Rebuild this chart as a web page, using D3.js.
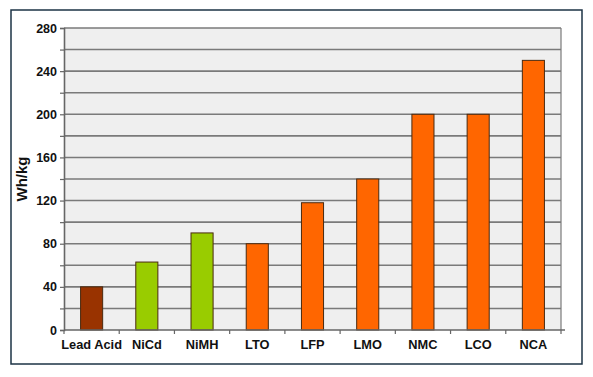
<!DOCTYPE html>
<html>
<head>
<meta charset="utf-8">
<script src="https://cdn.jsdelivr.net/npm/d3@7"></script>
<style>
  html, body { margin: 0; padding: 0; background: #fff; }
  text { font-family: "Liberation Sans", Arial, sans-serif; font-weight: bold; fill: #111; }
</style>
</head>
<body>
<div id="chart"></div>
<script>
// Specific energy by battery chemistry
const categories = ["Lead Acid", "NiCd", "NiMH", "LTO", "LFP", "LMO", "NMC", "LCO", "NCA"];
const values = [40, 63, 90, 80, 118, 140, 200, 200, 250];
const kinds = ["lead", "nickel", "nickel", "lithium", "lithium", "lithium", "lithium", "lithium", "lithium"];
const yTicks = [0, 20, 40, 60, 80, 100, 120, 140, 160, 180, 200, 220, 240, 260, 280];

const colors = { lead: "#993300", nickel: "#99cc00", lithium: "#ff6600" };

const width = 593, height = 377;
const margin = { top: 28, right: 32, bottom: 47, left: 64 };
const innerW = width - margin.left - margin.right;
const innerH = height - margin.top - margin.bottom;

const svg = d3.select("#chart").append("svg")
    .attr("width", width)
    .attr("height", height);

// outer frame
svg.append("rect")
    .attr("x", 11).attr("y", 10)
    .attr("width", 571).attr("height", 354)
    .attr("fill", "#fff")
    .attr("stroke", "#1d3345")
    .attr("stroke-width", 1.5);

const g = svg.append("g").attr("transform", `translate(${margin.left},${margin.top})`);

const x = d3.scaleBand().domain(categories).range([0, innerW]).paddingInner(0.6).paddingOuter(0.3);
const y = d3.scaleLinear().domain([0, 280]).range([innerH, 0]);

// plot background
g.append("rect")
    .attr("width", innerW).attr("height", innerH)
    .attr("fill", "#efefef");

// gridlines
g.selectAll("line.grid")
    .data(yTicks.filter(d => d > 0))
    .join("line")
    .attr("class", "grid")
    .attr("x1", 0).attr("x2", innerW)
    .attr("y1", d => y(d)).attr("y2", d => y(d))
    .attr("stroke", "#7a7a7a")
    .attr("stroke-width", 1.6);

// right border of plot
g.append("line")
    .attr("x1", innerW).attr("x2", innerW)
    .attr("y1", 0).attr("y2", innerH)
    .attr("stroke", "#7a7a7a").attr("stroke-width", 1.2);

// bars
g.selectAll("rect.bar")
    .data(categories)
    .join("rect")
    .attr("class", "bar")
    .attr("x", d => x(d))
    .attr("width", x.bandwidth())
    .attr("y", (d, i) => y(values[i]))
    .attr("height", (d, i) => innerH - y(values[i]))
    .attr("fill", (d, i) => colors[kinds[i]])
    .attr("stroke", "#4a2a10")
    .attr("stroke-width", 1);

// y axis
const yAxis = g.append("g")
    .call(d3.axisLeft(y).tickValues(yTicks).tickSize(4).tickPadding(3)
        .tickFormat(d => d % 40 === 0 ? d : ""));
yAxis.select(".domain").attr("stroke", "#666").attr("stroke-width", 1.6);
yAxis.selectAll(".tick line").attr("stroke", "#666").attr("stroke-width", 1.2);
yAxis.selectAll(".tick text").style("font-size", "12.5px").attr("fill", "#111");

// x axis with ticks at category boundaries
const step = x.step();
const bounds = d3.range(categories.length + 1).map(i => i * innerW / categories.length);
const xg = g.append("g").attr("transform", `translate(0,${innerH})`);
xg.append("line")
    .attr("x1", 0).attr("x2", innerW + 4)
    .attr("stroke", "#666").attr("stroke-width", 1.6);
xg.selectAll("line.xt")
    .data(bounds)
    .join("line")
    .attr("class", "xt")
    .attr("x1", d => d).attr("x2", d => d)
    .attr("y1", 0).attr("y2", 4)
    .attr("stroke", "#666").attr("stroke-width", 1.2);
xg.selectAll("text")
    .data(categories)
    .join("text")
    .attr("x", d => x(d) + x.bandwidth() / 2)
    .attr("y", 19)
    .attr("text-anchor", "middle")
    .style("font-size", "12.8px")
    .text(d => d);

// y label
svg.append("text")
    .attr("transform", `translate(27,${margin.top + innerH / 2}) rotate(-90)`)
    .attr("text-anchor", "middle")
    .style("font-size", "15px")
    .text("Wh/kg");
</script>
</body>
</html>
